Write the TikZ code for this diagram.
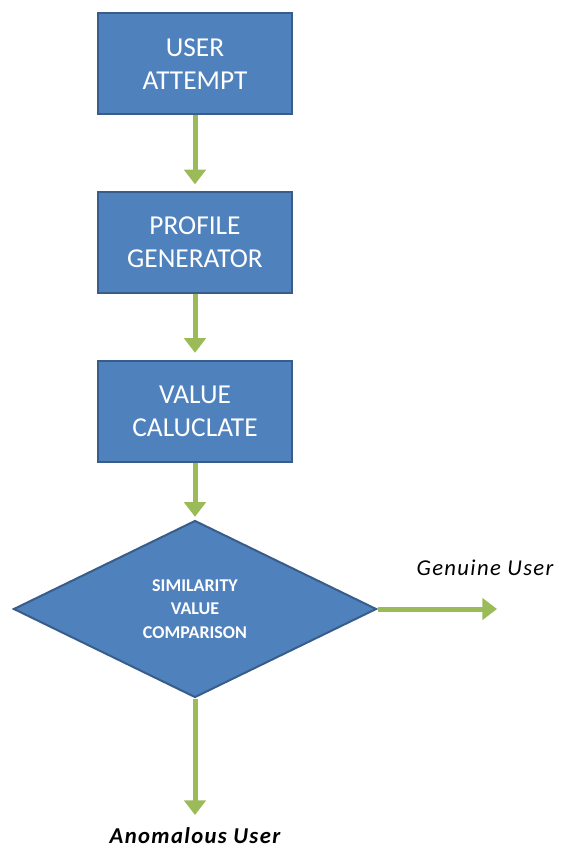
\documentclass[tikz,border=0pt]{standalone}
\usepackage{fontspec}
\setmainfont{Carlito}
\newfontfamily\lblfont[LetterSpace=6]{Carlito}
\usetikzlibrary{shapes.geometric,arrows.meta}
\definecolor{boxfill}{HTML}{4F81BD}
\definecolor{boxline}{HTML}{385D8A}
\definecolor{arrgreen}{HTML}{9BBB59}
\tikzset{
  procbox/.style={draw=boxline, fill=boxfill, line width=1.5pt, minimum width=194*0.75pt, minimum height=101*0.75pt,
    inner sep=0pt, align=center, text=white, font=\fontsize{20.5pt}{24.75pt}\selectfont},
  decbox/.style={diamond, draw=boxline, fill=boxfill, line width=1.5pt, aspect=2.05, inner sep=0pt,
    minimum width=363*0.75pt, minimum height=177*0.75pt, align=center, text=white,
    font=\fontsize{13.5pt}{17.5pt}\selectfont\bfseries},
  flow/.style={draw=arrgreen, line width=3.75pt, -{Triangle[width=16pt,length=11pt]}},
  outlbl/.style={font=\fontsize{17pt}{20pt}\selectfont\lblfont\itshape, inner sep=0pt},
}
\begin{document}
\begin{tikzpicture}[x=0.75pt,y=-0.75pt]
\useasboundingbox (0,0) rectangle (565,852);
\node[procbox] (b1) at (195,64) {USER\\ATTEMPT};
\node[procbox] (b2) at (195,242.5) {PROFILE\\GENERATOR};
\node[procbox] (b3) at (195,411) {VALUE\\CALUCLATE};
\node[decbox] (d) at (195,609) {SIMILARITY\\VALUE\\COMPARISON};
\coordinate (gend) at (497,609);
\coordinate (aend) at (195,815);
\node[outlbl] (gl) at (485,568) {Genuine User};
\node[outlbl, font=\fontsize{17pt}{20pt}\selectfont\lblfont\bfseries\itshape] (al) at (195,836) {Anomalous User};
\draw[flow, shorten >=5pt] (b1.south) -- (b2.north);
\draw[flow, shorten >=5pt] (b2.south) -- (b3.north);
\draw[flow, shorten >=2pt] (b3.south) -- (d.north);
\draw[flow] (d.east) -- (gend);
\draw[flow] (d.south) -- (aend);
\end{tikzpicture}
\end{document}
